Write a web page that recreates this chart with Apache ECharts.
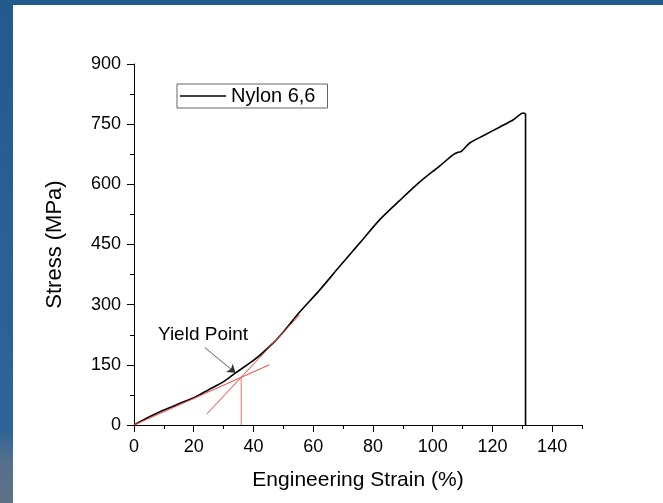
<!DOCTYPE html>
<html>
<head>
<meta charset="utf-8">
<script src="https://cdn.jsdelivr.net/npm/echarts@6/dist/echarts.min.js"></script>
<style>
html,body{margin:0;padding:0;background:#fff;}
#main{position:absolute;left:0;top:0;width:663px;height:503px;}
#topbar{position:absolute;left:0;top:0;width:663px;height:5px;background:#245b8e;}
#leftbar{position:absolute;left:0;top:0;width:13px;height:503px;
  background:linear-gradient(180deg,#245b8e 0%,#2a6197 60%,#2c6399 85%,#56708c 92%,#5e7186 100%);}
</style>
</head>
<body>
<div id="main"></div>
<div id="topbar"></div>
<div id="leftbar"></div>
<script>
// stress-strain curve
var strain = [0, 2, 5, 10, 15, 20, 25, 30, 34, 40, 46.4, 50, 55.4, 62, 68.8, 75.6, 82.3, 89, 95.7, 102.4, 106.9, 108.5, 109.6, 112.4, 116.9, 122.5, 127, 130.3, 131.1];
var stress = [0, 8, 20, 37.5, 53, 68, 88, 108, 130, 161, 203, 232, 281, 335, 395, 454, 512, 560, 606, 646, 674, 680, 682, 703, 721, 743, 761, 778, 776];
// the specimen breaks: stress falls to zero
var breakStrain = [131.1, 131.1];
var breakStress = [776, 0];

// construction lines for the yield point
var elasticFit = [[0, 0], [45.3, 150]];
var plasticFit = [[24.4, 27.5], [55.5, 275]];
var dropLine = [[35.9, 0], [35.9, 120]];
var yieldPt = [34, 130];
var yieldLabelPt = [23.1, 225];
var arrowStart = [23.7, 193];

var xLabels = [0, 20, 40, 60, 80, 100, 120, 140];
var yLabels = [0, 150, 300, 450, 600, 750, 900];

var curve = [];
for (var i = 0; i < strain.length; i++) {
  curve.push([strain[i], stress[i]]);
}
var breakLine = [];
for (var j = 0; j < breakStrain.length; j++) {
  breakLine.push([breakStrain[j], breakStress[j]]);
}

var font = 'Liberation Sans, Arial, sans-serif';
var red = '#ff3a3a';

var myChart = echarts.init(document.getElementById('main'));
var option = {
  animation: false,
  textStyle: {fontFamily: font},
  grid: {left: 134, right: 81, top: 64, bottom: 78},
  legend: {
    data: ['Nylon 6,6'],
    left: 177, top: 84,
    icon: 'rect',
    padding: [2, 12, 2, 3],
    borderColor: '#666', borderWidth: 1,
    itemWidth: 46, itemHeight: 1.5,
    textStyle: {fontSize: 20, color: '#000', fontFamily: font}
  },
  xAxis: [{
    type: 'value', min: 0, max: 150, interval: 10,
    name: 'Engineering Strain (%)',
    nameLocation: 'middle', nameGap: 45,
    nameTextStyle: {fontSize: 21, color: '#000', fontFamily: font},
    splitLine: {show: false},
    axisLine: {lineStyle: {color: '#000', width: 1}},
    axisTick: {length: 4, lineStyle: {color: '#000'}},
    axisLabel: {
      fontSize: 18, color: '#000', margin: 13,
      formatter: function (v) { return xLabels.indexOf(v) >= 0 ? v : ''; }
    }
  }, {
    type: 'value', min: 0, max: 150, position: 'bottom',
    splitLine: {show: false},
    axisLine: {show: false},
    axisTick: {length: 7, customValues: xLabels, lineStyle: {color: '#000'}},
    axisLabel: {show: false}
  }],
  yAxis: [{
    type: 'value', min: 0, max: 900, interval: 75,
    name: 'Stress (MPa)',
    nameLocation: 'middle', nameGap: 68,
    nameTextStyle: {fontSize: 22, color: '#000', fontFamily: font},
    splitLine: {show: false},
    axisLine: {lineStyle: {color: '#000', width: 1}},
    axisTick: {length: 4, lineStyle: {color: '#000'}},
    axisLabel: {
      fontSize: 18, color: '#000', margin: 13,
      formatter: function (v) { return yLabels.indexOf(v) >= 0 ? v : ''; }
    }
  }, {
    type: 'value', min: 0, max: 900, position: 'left',
    splitLine: {show: false},
    axisLine: {show: false},
    axisTick: {length: 7, customValues: yLabels, lineStyle: {color: '#000'}},
    axisLabel: {show: false}
  }],
  series: [{
    name: 'Nylon 6,6',
    type: 'line',
    data: curve,
    symbol: 'none',
    smooth: 0.25,
    lineStyle: {color: '#000', width: 1.6},
    itemStyle: {color: '#000'},
    markLine: {
      silent: true,
      symbol: ['none', 'arrow'],
      symbolSize: 8,
      label: {show: false},
      lineStyle: {color: '#333', width: 0.8, type: 'solid'},
      data: [[{coord: arrowStart}, {coord: yieldPt}]]
    }
  }, {
    name: 'break',
    type: 'line', data: breakLine, symbol: 'none',
    lineStyle: {color: '#000', width: 1.6}
  }, {
    type: 'line', data: elasticFit, symbol: 'none',
    lineStyle: {color: red, width: 1}
  }, {
    type: 'line', data: plasticFit, symbol: 'none',
    lineStyle: {color: red, width: 1}
  }, {
    type: 'line', data: dropLine, symbol: 'none',
    lineStyle: {color: '#ff7070', width: 1}
  }, {
    type: 'scatter', data: [yieldLabelPt], symbolSize: 0,
    itemStyle: {opacity: 1},
    label: {
      show: true, position: 'inside', formatter: 'Yield Point',
      fontSize: 19, color: '#000', fontFamily: font, textBorderWidth: 0
    }
  }]
};
myChart.setOption(option);
</script>
</body>
</html>
